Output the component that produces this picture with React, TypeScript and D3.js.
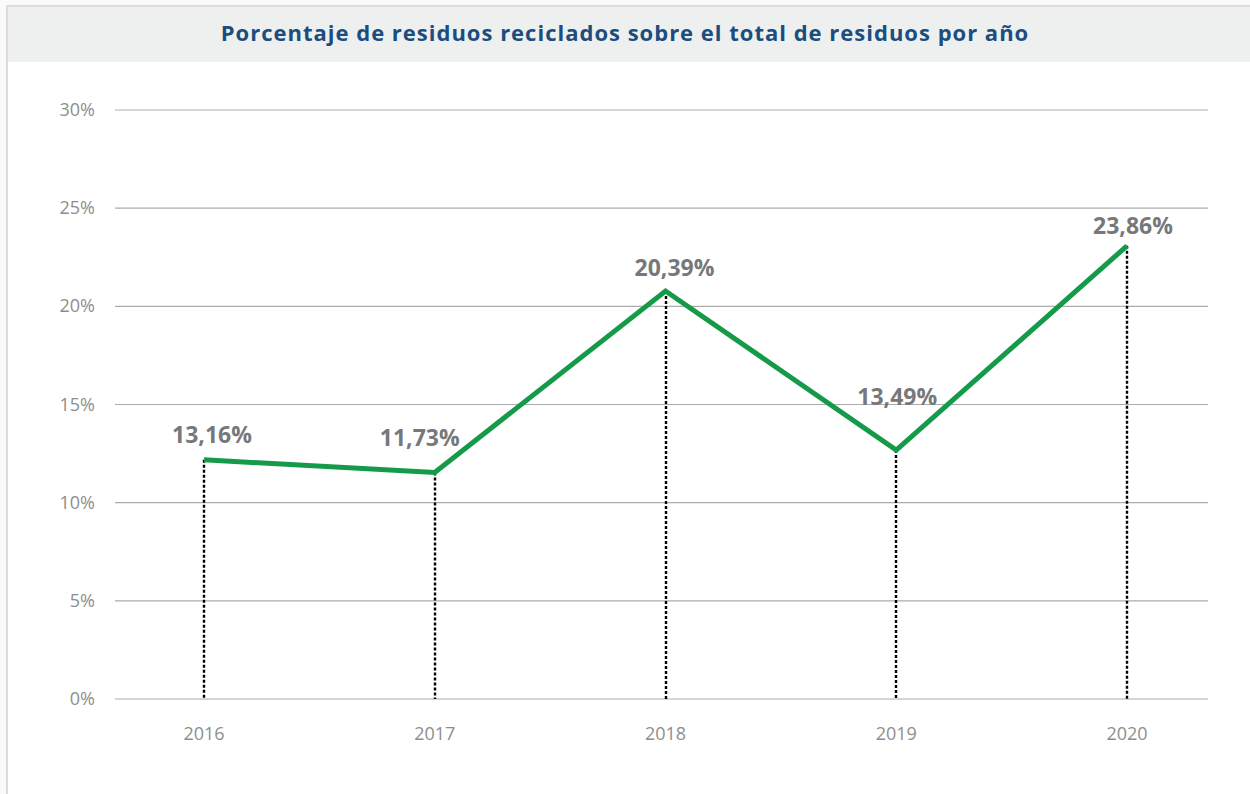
import React from "react";
import * as d3 from "d3";

const years: string[] = ["2016", "2017", "2018", "2019", "2020"];
// Plotted line positions (as drawn in the picture, in %)
const plotted: number[] = [12.18, 11.54, 20.78, 12.68, 23.08];
// Data labels as printed
const labels: string[] = ["13,16%", "11,73%", "20,39%", "13,49%", "23,86%"];
const yTicks: number[] = [0, 5, 10, 15, 20, 25, 30];

const W = 1250;
const H = 794;
// label placement offsets relative to each point (layout only)
const labelDx = [8, -15, 9, 1, 6];
const labelDy = [-17, -26, -15, -45, -12];

export default function App() {
  const x = d3.scalePoint<string>().domain(years).range([204, 1127]);
  const y = d3.scaleLinear().domain([0, 30]).range([699, 110]);
  const line = d3
    .line<number>()
    .x((_, i) => x(years[i]) as number)
    .y((d) => y(d));

  return (
    <svg
      width={W}
      height={H}
      style={{ position: "absolute", left: 0, top: 0, display: "block" }}
      fontFamily="'Open Sans', 'Noto Sans', sans-serif"
    >
      <rect x={0} y={0} width={W} height={H} fill="#fafafa" />
      <rect x={6} y={5} width={W - 6} height={H - 5} fill="#e0dcd9" />
      <rect x={8} y={7} width={W - 8} height={H - 7} fill="#ffffff" />
      <rect x={8} y={7} width={W - 8} height={55} fill="#eef0ef" />
      <text
        x={625}
        y={41}
        textAnchor="middle"
        fontSize={22}
        fontWeight={700}
        fill="#1b4d7e"
        letterSpacing={1}
      >
        Porcentaje de residuos reciclados sobre el total de residuos por año
      </text>

      {yTicks.map((t) => (
        <g key={t}>
          <line x1={115} x2={1208} y1={y(t)} y2={y(t)} stroke="#ababab" strokeWidth={1.2} />
          <text
            x={95}
            y={y(t) + 6}
            textAnchor="end"
            fontSize={18}
            fontWeight={400}
            fill="#8e8e8e"
          >
            {t}%
          </text>
        </g>
      ))}

      {years.map((yr, i) => (
        <g key={yr}>
          <line
            x1={Math.round(x(yr) as number)}
            x2={Math.round(x(yr) as number)}
            y1={y(plotted[i])}
            y2={y(0)}
            stroke="#000"
            strokeWidth={2.4}
            strokeDasharray="3,2"
          />
          <text
            x={x(yr)}
            y={740}
            textAnchor="middle"
            fontSize={18}
            fontWeight={400}
            fill="#8e8e8e"
          >
            {yr}
          </text>
        </g>
      ))}

      <path
        d={line(plotted) || ""}
        fill="none"
        stroke="#149a48"
        strokeWidth={5}
        strokeLinejoin="miter"
      />

      {years.map((yr, i) => (
        <text
          key={"l" + yr}
          x={(x(yr) as number) + labelDx[i]}
          y={y(plotted[i]) + labelDy[i]}
          textAnchor="middle"
          fontSize={23}
          fontWeight={700}
          fill="#77787b"
        >
          {labels[i]}
        </text>
      ))}
    </svg>
  );
}
